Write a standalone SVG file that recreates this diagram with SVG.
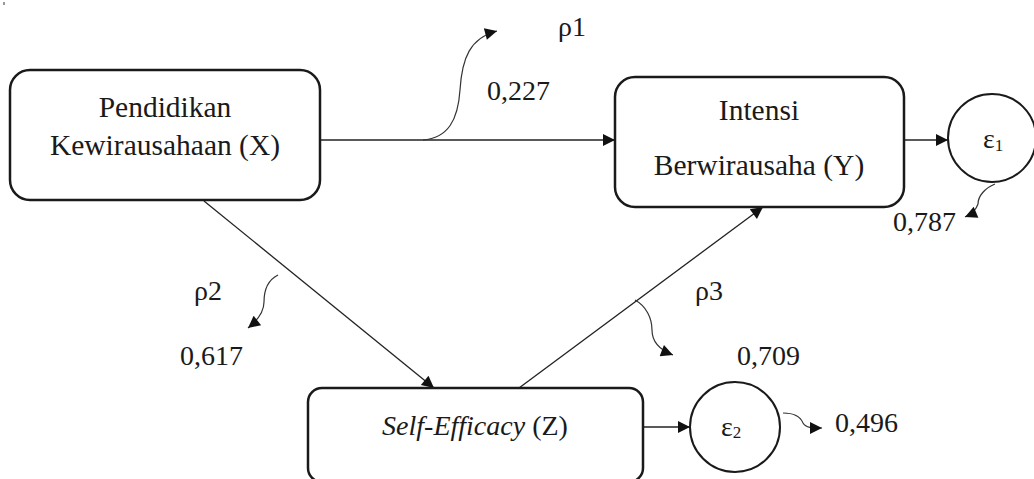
<svg xmlns="http://www.w3.org/2000/svg" width="1034" height="479" viewBox="0 0 1034 479">
  <defs>
    <marker id="arrow" viewBox="0 0 10 10" refX="10" refY="5" markerWidth="15" markerHeight="12" markerUnits="userSpaceOnUse" orient="auto">
      <path d="M0,0 L10,5 L0,10 Z" fill="#111"/>
    </marker>
    <style>
      .box { fill: #fff; stroke: #1a1a1a; stroke-width: 2.5; }
      .err { fill: #fff; stroke: #1a1a1a; stroke-width: 2; }
      .link { fill: none; stroke: #222; stroke-width: 1.3; marker-end: url(#arrow); }
      .curl { fill: none; stroke: #333; stroke-width: 1.2; marker-end: url(#arrow); }
      text { font-family: 'Liberation Serif', 'Times New Roman', serif; font-size: 28px; fill: #1a1a1a; }
      .big { font-size: 29.5px; }
      .mid { text-anchor: middle; }
    </style>
  </defs>

  <rect width="1034" height="479" fill="#fff"/>
  <rect x="3" y="2" width="2" height="3" fill="#999"/>

  <!-- connectors -->
  <g id="connectors">
    <line class="link" x1="320" y1="140" x2="615" y2="140"/>
    <line class="link" x1="905" y1="140" x2="948" y2="140"/>
    <line class="link" x1="204" y1="201" x2="434" y2="388"/>
    <line class="link" x1="519" y1="388" x2="763" y2="207"/>
    <line class="link" x1="643" y1="427" x2="690" y2="427"/>
    <!-- residual / coefficient curls -->
    <path class="curl" d="M423,140 C448,138 458,120 460,90 C462,58 470,38 497,31"/>
    <path class="curl" d="M995,184 C985,188 978,196 978,204 C976,210 972,214 965,217"/>
    <path class="curl" d="M278,275 C268,280 264,290 264,302 C264,312 258,320 248,328"/>
    <path class="curl" d="M635,300 C646,306 652,318 652,330 C652,342 660,350 673,355"/>
    <path class="curl" d="M783,413 C795,413 801,418 803,423 C806,428 812,428 822,428"/>
  </g>

  <!-- node X -->
  <g id="node-x">
    <rect class="box" x="10" y="70" width="310" height="130" rx="20"/>
    <text class="mid big" x="165" y="117">Pendidikan</text>
    <text class="mid big" x="165" y="155">Kewirausahaan (X)</text>
  </g>

  <!-- node Y -->
  <g id="node-y">
    <rect class="box" x="615" y="77" width="289" height="130" rx="20"/>
    <text class="mid big" x="759" y="120">Intensi</text>
    <text class="mid big" x="759" y="175">Berwirausaha (Y)</text>
  </g>

  <!-- node Z -->
  <g id="node-z">
    <rect class="box" x="308" y="388" width="335" height="94" rx="14"/>
    <text class="mid" x="475" y="435" font-size="28.5"><tspan font-style="italic">Self-Efficacy</tspan> (Z)</text>
  </g>

  <!-- residual e1 -->
  <g id="node-e1">
    <circle class="err" cx="992" cy="138" r="44"/>
    <text x="983" y="148">ε<tspan font-size="17" dy="3">1</tspan></text>
  </g>

  <!-- residual e2 -->
  <g id="node-e2">
    <circle class="err" cx="735" cy="427" r="45"/>
    <text x="721" y="436">ε<tspan font-size="17" dy="2">2</tspan></text>
  </g>

  <!-- coefficient labels -->
  <g id="labels">
    <text x="558" y="36">ρ1</text>
    <text x="487" y="100">0,227</text>
    <text x="194" y="300">ρ2</text>
    <text x="180" y="365">0,617</text>
    <text x="695" y="300">ρ3</text>
    <text x="737" y="365">0,709</text>
    <text x="893" y="231">0,787</text>
    <text x="835" y="432">0,496</text>
  </g>
</svg>
